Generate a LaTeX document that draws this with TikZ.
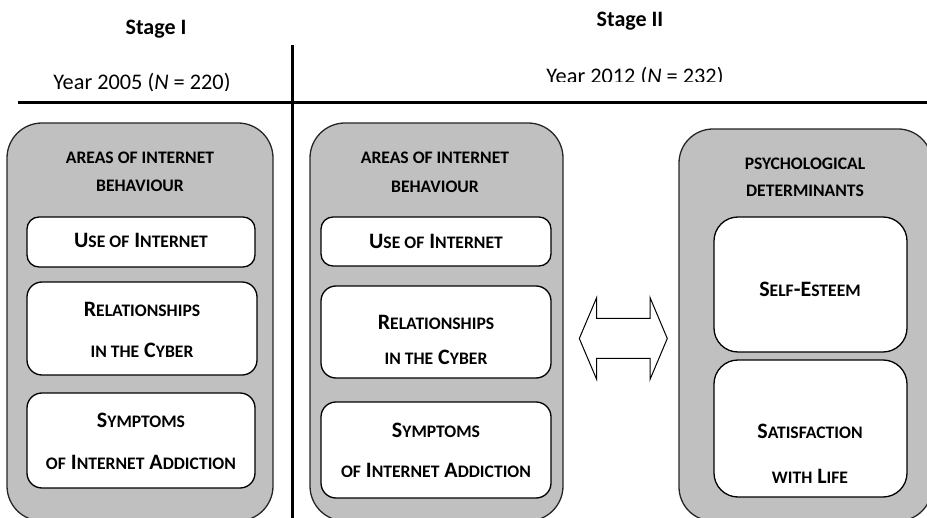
\documentclass[tikz,border=0pt]{standalone}
\usepackage{fontspec}
\setmainfont{Carlito}
\definecolor{boxgray}{RGB}{192,192,192}
\newcommand{\Sm}[1]{{\fontsize{17.6}{17.6}\selectfont\MakeUppercase{#1}}}
\newcommand{\Bg}{\fontsize{22}{22}\selectfont\bfseries}
\begin{document}
\begin{tikzpicture}[x=1pt,y=-1pt,
  outerbox/.style={draw=black!85,line width=1.3pt,fill=boxgray,rounded corners=35pt},
  innerbox/.style={draw=black,line width=1.3pt,fill=white},
  lbl/.style={anchor=base,inner sep=0pt,font=\Bg},
  hdr/.style={anchor=base,inner sep=0pt,font=\fontsize{22.3}{22.3}\selectfont},
  divider/.style={line width=3pt,black}]
\useasboundingbox (0,0) rectangle (927,518);
\clip (0,0) rectangle (927,518);
% headings
\node[lbl] (s1) at (156,34.3) {Stage I};
\node[lbl] (s2) at (630,26.7) {Stage II};
\begin{scope}
\clip (0,0) rectangle (291,90.5);
\node[hdr] (y1) at (142,90) {Year 2005 (\textit{N} = 220)};
\end{scope}
\begin{scope}
\clip (293,0) rectangle (927,82);
\node[hdr] (y2) at (635,84) {Year 2012 (\textit{N} = 232)};
\end{scope}
% dividers
\coordinate (vt) at (292,45);
\coordinate (vb) at (292,518);
\coordinate (hl) at (18,103);
\coordinate (hr) at (927,103);
\draw[divider] (vt) -- (vb);
\draw[divider] (hl) -- (hr);
% left outer box
\draw[outerbox] (7,123) rectangle (273,521);
\node[lbl] (t1a) at (140,163.3) {\Sm{Areas of Internet}};
\node[lbl] (t1b) at (140,191.7) {\Sm{Behaviour}};
\draw[innerbox,rounded corners=12pt] (27,217) rectangle (255,267);
\node[lbl] (u1) at (141,248) {U\Sm{se of} I\Sm{nternet}};
\draw[innerbox,rounded corners=15pt] (27,282) rectangle (257,375);
\node[lbl] (r1a) at (142,316.7) {R\Sm{elationships}};
\node[lbl] (r1b) at (142,358) {\Sm{in the} C\Sm{yber}};
\draw[innerbox,rounded corners=15pt] (27,393) rectangle (255,488);
\node[lbl] (sy1a) at (141,428) {S\Sm{ymptoms}};
\node[lbl] (sy1b) at (141,470) {\Sm{of} I\Sm{nternet} A\Sm{ddiction}};
% middle outer box
\draw[outerbox] (310,123) rectangle (563,521);
\node[lbl] (t2a) at (435,164) {\Sm{Areas of Internet}};
\node[lbl] (t2b) at (435,192.7) {\Sm{Behaviour}};
\draw[innerbox,rounded corners=12pt] (321,217) rectangle (551,266);
\node[lbl] (u2) at (436,249) {U\Sm{se of} I\Sm{nternet}};
\draw[innerbox,rounded corners=15pt] (321,286) rectangle (551,378);
\node[lbl] (r2a) at (436,330) {R\Sm{elationships}};
\node[lbl] (r2b) at (436,365) {\Sm{in the} C\Sm{yber}};
\draw[innerbox,rounded corners=15pt] (321,402) rectangle (551,498);
\node[lbl] (sy2a) at (436,438) {S\Sm{ymptoms}};
\node[lbl] (sy2b) at (436,478) {\Sm{of} I\Sm{nternet} A\Sm{ddiction}};
% double arrow
\draw[line width=1pt,fill=white,line join=miter]
  (579.3,338.5) -- (596.7,297.5) -- (596.7,318.3) -- (650,318.3) -- (650,297.5)
  -- (667.3,338.5) -- (650,379.5) -- (650,358.3) -- (596.7,358.3) -- (596.7,379.5) -- cycle;
% right outer box
\draw[outerbox,rounded corners=34pt] (679,129) rectangle (932,521);
\node[lbl] (t3a) at (805,170) {\Sm{Psychological}};
\node[lbl] (t3b) at (805,197) {\Sm{Determinants}};
\draw[innerbox,rounded corners=24pt] (714,217) rectangle (907,352);
\node[lbl] (se) at (810,296.7) {S\Sm{elf}-E\Sm{steem}};
\draw[innerbox,rounded corners=24pt] (714,360) rectangle (907,497);
\node[lbl] (sa) at (810,439) {S\Sm{atisfaction}};
\node[lbl] (wl) at (810,484) {\Sm{with} L\Sm{ife}};
\end{tikzpicture}
\end{document}
